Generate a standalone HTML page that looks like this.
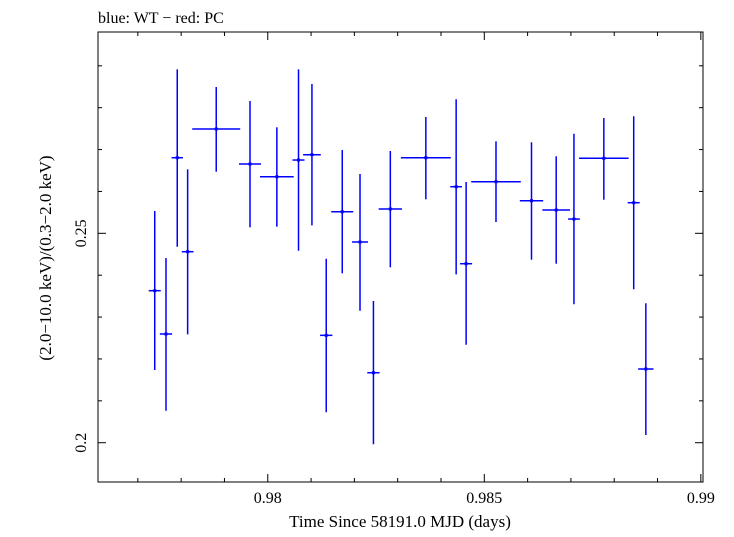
<!DOCTYPE html>
<html><head><meta charset="utf-8"><style>
body{margin:0;background:#fff;}
svg text{font-family:"Liberation Serif",serif;fill:#000;}
</style></head><body>
<svg id="chart" width="734" height="532" xmlns="http://www.w3.org/2000/svg">
<rect width="734" height="532" fill="#fff"/>
<text x="98" y="23" font-size="16">blue: WT − red: PC</text>
<rect x="98" y="32" width="605" height="450" fill="none" stroke="#000" stroke-width="1"/>
<g id="axes"></g>
<g id="marks"></g>
<text x="400" y="527" font-size="17" text-anchor="middle">Time Since 58191.0 MJD (days)</text>
<text transform="translate(51,258) rotate(-90)" font-size="17" text-anchor="middle">(2.0−10.0 keV)/(0.3−2.0 keV)</text>
</svg>
<script>
const xVals=[0.97739,0.97765,0.97791,0.97815,0.97881,0.97959,0.98021,0.98071,0.98102,0.98135,0.98172,0.98213,0.98244,0.98283,0.98365,0.98435,0.98458,0.98527,0.98609,0.98666,0.98707,0.98776,0.98845,0.98873];
const xErr=[0.000139,0.000142,0.000131,0.000135,0.000554,0.000254,0.000389,0.000139,0.000204,0.000142,0.000254,0.000185,0.000142,0.000269,0.000577,0.000135,0.000139,0.000573,0.000269,0.000319,0.000135,0.000573,0.000139,0.000177];
const yVals=[0.23630,0.22596,0.26805,0.24561,0.27490,0.26655,0.26351,0.26750,0.26877,0.22564,0.25516,0.24792,0.21671,0.25580,0.26805,0.26113,0.24274,0.26232,0.25778,0.25556,0.25341,0.26791,0.25731,0.21760];
const yHi=[0.25532,0.24410,0.28916,0.26528,0.28493,0.28159,0.27531,0.28916,0.28565,0.24394,0.26989,0.26416,0.23383,0.26965,0.27777,0.28200,0.26225,0.27197,0.27173,0.26839,0.27378,0.27753,0.27794,0.23329];
const yLo=[0.21736,0.20764,0.24680,0.22588,0.26471,0.25143,0.25158,0.24585,0.25191,0.20726,0.24045,0.23152,0.19962,0.24188,0.25812,0.24021,0.22340,0.25270,0.24370,0.24274,0.23305,0.25802,0.23663,0.20184];
const xMajor=[0.98,0.985,0.99];
const xMajorLabels=["0.98","0.985","0.99"];
const yMajor=[0.2,0.25];
const yMajorLabels=["0.2","0.25"];
const X0=98,X1=703,Y0=32,Y1=482;
const xMin=0.97608,xMax=0.99005,yMin=0.19062,yMax=0.29807;
function sx(v){return X0+(v-xMin)/(xMax-xMin)*(X1-X0);}
function sy(v){return Y1-(v-yMin)/(yMax-yMin)*(Y1-Y0);}
const NS="http://www.w3.org/2000/svg";
const axes=document.getElementById('axes'),marks=document.getElementById('marks');
function line(p,x1,y1,x2,y2,c,w){const l=document.createElementNS(NS,'line');l.setAttribute('x1',x1);l.setAttribute('y1',y1);l.setAttribute('x2',x2);l.setAttribute('y2',y2);l.setAttribute('stroke',c);l.setAttribute('stroke-width',w);p.appendChild(l);return l;}
// x ticks
for(let i=0;i<=14;i++){const v=0.977+i*0.001;if(v<xMin||v>xMax)continue;const px=sx(v);const maj=Math.abs((v*1000)%5)<1e-6||Math.abs((v*1000)%5-5)<1e-6;const L=maj?8:4;
const t1=line(axes,px,Y1,px,Y1-L,'#000',1);


const t2=line(axes,px,Y0,px,Y0+L,'#000',1);

}
xMajor.forEach((v,i)=>{const t=document.createElementNS(NS,'text');t.setAttribute('x',sx(v));t.setAttribute('y',503);t.setAttribute('font-size','16');t.setAttribute('text-anchor','middle');t.textContent=xMajorLabels[i];


axes.appendChild(t);});
// y ticks
for(let i=0;i<=11;i++){const v=0.19+i*0.01;if(v<yMin||v>yMax)continue;const py=sy(v);const maj=(i===1||i===6);const L=maj?8:4;
const t1=line(axes,X0,py,X0+L,py,'#000',1);


const t2=line(axes,X1,py,X1-L,py,'#000',1);

}
yMajor.forEach((v,i)=>{const t=document.createElementNS(NS,'text');t.setAttribute('transform','translate(86,'+sy(v)+') rotate(-90)');t.setAttribute('font-size','16');t.setAttribute('text-anchor','middle');t.textContent=yMajorLabels[i];


axes.appendChild(t);});
// data
xVals.forEach((x,i)=>{const g=document.createElementNS(NS,'g');


line(g,sx(x-xErr[i]),sy(yVals[i]),sx(x+xErr[i]),sy(yVals[i]),'#0000ff',1.5);
line(g,sx(x),sy(yHi[i]),sx(x),sy(yLo[i]),'#0000ff',1.5);
const c=document.createElementNS(NS,'rect');c.setAttribute('x',sx(x)-1.5);c.setAttribute('y',sy(yVals[i])-1.5);c.setAttribute('width',3);c.setAttribute('height',3);c.setAttribute('fill','#0000ff');g.appendChild(c);
marks.appendChild(g);});
</script>
</body></html>
